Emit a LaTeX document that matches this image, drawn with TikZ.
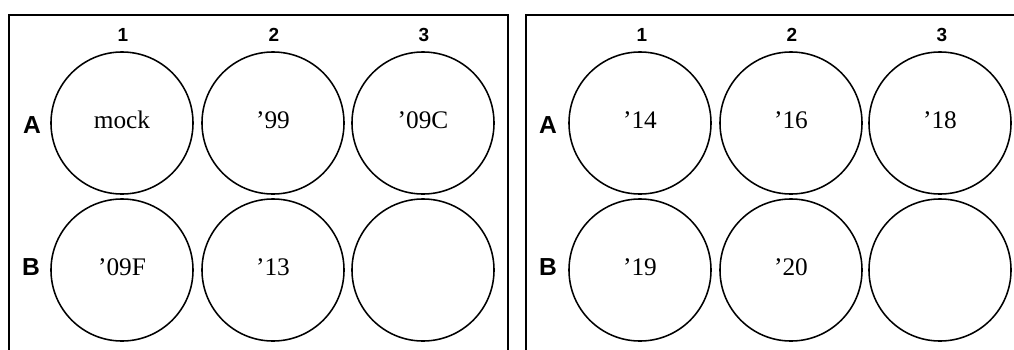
\documentclass[tikz,border=0pt]{standalone}
\usepackage{fontspec}
\setmainfont{Liberation Serif}
\setsansfont{Liberation Sans}
\usetikzlibrary{positioning}

\begin{document}
\begin{tikzpicture}[
  x=0.025cm, y=-0.025cm,
  well/.style={
    circle,
    draw=black,
    line width=1.1pt,
    minimum size=3.55cm,
    inner sep=0pt,
    text height=0.45cm,
    text depth=0.2cm,
    font=\fontsize{18}{20}\selectfont
  },
  plate/.style={line width=1.6pt, line cap=rect},
  collabel/.style={font=\sffamily\bfseries\fontsize{13.5}{15}\selectfont, inner sep=0pt},
  rowlabel/.style={font=\sffamily\bfseries\fontsize{17.5}{19}\selectfont, inner sep=0pt}
]
  \useasboundingbox (0,0) rectangle (1014,349);

  % left plate
  \draw[plate] (9,352) -- (9,15) -- (508,15) -- (508,352);

  \node[collabel] (lc1) at (123,35) {1};
  \node[collabel] (lc2) at (274,35) {2};
  \node[collabel] (lc3) at (424,35) {3};
  \node[rowlabel] (lrA) at (32,125) {A};
  \node[rowlabel] (lrB) at (31,267) {B};

  \node[well] (lA1) at (122,123) {mock};
  \node[well] (lA2) at (273,123) {'99};
  \node[well] (lA3) at (423,123) {'09C};
  \node[well] (lB1) at (122,270) {'09F};
  \node[well] (lB2) at (273,270) {'13};
  \node[well] (lB3) at (423,270) {};

  % right plate
  \draw[plate] (526,352) -- (526,15) -- (1016,15);

  \node[collabel] (rc1) at (642,35) {1};
  \node[collabel] (rc2) at (792,35) {2};
  \node[collabel] (rc3) at (942,35) {3};
  \node[rowlabel] (rrA) at (548,125) {A};
  \node[rowlabel] (rrB) at (548,267) {B};

  \node[well] (rA1) at (640,123) {'14};
  \node[well] (rA2) at (791,123) {'16};
  \node[well] (rA3) at (940,123) {'18};
  \node[well] (rB1) at (640,270) {'19};
  \node[well] (rB2) at (791,270) {'20};
  \node[well] (rB3) at (940,270) {};

\end{tikzpicture}
\end{document}
